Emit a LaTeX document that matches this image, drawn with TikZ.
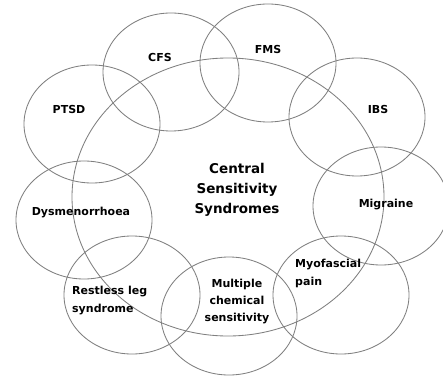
\documentclass[tikz,border=0pt]{standalone}
\usepackage{fontspec}
\setmainfont{DejaVu Sans}
\usetikzlibrary{shapes.geometric}
\begin{document}
\begin{tikzpicture}[x=1pt,y=-1pt,
  ring/.style={draw=black!50,line width=0.85pt,ellipse,inner sep=0pt,minimum width=136pt,minimum height=118pt},
  bigring/.style={draw=black!50,line width=0.85pt,ellipse,inner sep=0pt,minimum width=312pt,minimum height=278pt},
  lbl/.style={font=\bfseries\fontsize{11}{17}\selectfont,inner sep=0pt,align=center},
  lbll/.style={font=\bfseries\fontsize{11}{18}\selectfont,inner sep=0pt,align=left,anchor=west},
  title/.style={font=\bfseries\fontsize{13.5}{20}\selectfont,inner sep=0pt,align=center}]
\useasboundingbox (0,0) rectangle (443,379);
\fill[white] (0,0) rectangle (443,379);
\node[bigring] (css) at (228,197) {};
\node[ring] (cfs) at (171,72) {};
\node[ring] (fms) at (268,63) {};
\node[ring] (ptsd) at (92,124) {};
\node[ring] (ibs) at (357,117) {};
\node[ring] (dys) at (84,220) {};
\node[ring] (mig) at (381,206) {};
\node[ring] (rls) at (132,295) {};
\node[ring] (mcs) at (229,316) {};
\node[ring] (myo) at (341,295) {};
\node[lbl] (tcfs) at (160,57) {CFS};
\node[lbl] (tfms) at (268,49) {FMS};
\node[lbl] (tptsd) at (69,109) {PTSD};
\node[lbl] (tibs) at (378,109) {IBS};
\node[title] (tcss) at (237,190) {Central\\Sensitivity\\Syndromes};
\node[lbl] (tdys) at (81,213) {Dysmenorrhoea};
\node[lbl] (tmig) at (386,205) {Migraine};
\node[lbll] (tmyo) at (295,273) {Myofascial\\pain};
\node[lbll] (trls) at (72,301) {Restless leg\\syndrome};
\node[lbl] (tmcs) at (237,302) {Multiple\\chemical\\sensitivity};
\end{tikzpicture}
\end{document}
